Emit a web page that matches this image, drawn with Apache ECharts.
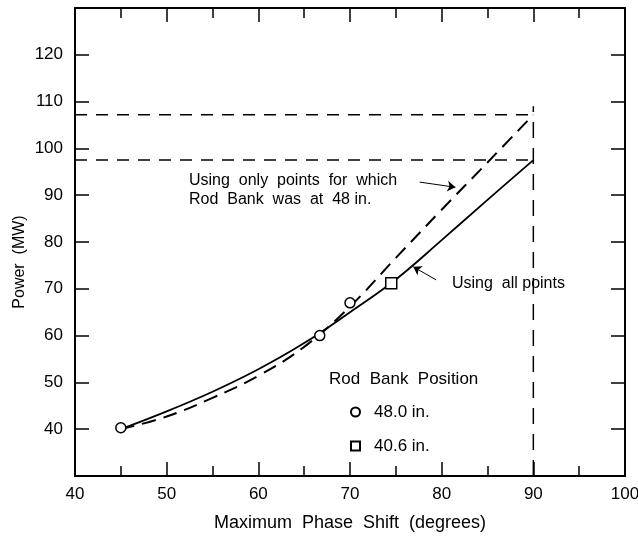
<!DOCTYPE html>
<html>
<head>
<meta charset="utf-8">
<script src="https://cdn.jsdelivr.net/npm/echarts@6/dist/echarts.min.js"></script>
<style>
  html, body { margin: 0; padding: 0; background: #fff; }
  #chart { width: 638px; height: 536px; }
</style>
</head>
<body>
<div id="chart"></div>
<script>
// fitted curves, every 5 degrees
const phaseShift = [45, 50, 55, 60, 65, 70, 75, 80, 85, 90];
const powerAllPoints = [40, 43.8, 48.0, 52.8, 58.4, 65.0, 72.0, 80.4, 89.0, 97.5];
const powerRod48 = [40, 42.7, 46.7, 51.4, 57.6, 66.2, 76.6, 86.9, 97.0, 107.2];

// measured points
const rod48X = [45.0, 66.7, 70.0];
const rod48Y = [40.3, 60.0, 67.0];
const rod406X = [74.5];
const rod406Y = [71.2];

// read-off guides at 90 degrees
const guideLevels = [107.2, 97.5];
const guideX = 90;
const guideRange = [30, 109];

const yTickLabels = [40, 50, 60, 70, 80, 90, 100, 110, 120];

const FONT = "'Liberation Sans', Arial, sans-serif";
const INK = '#000';

const pairs = (xs, ys) => xs.map((x, i) => [x, ys[i]]);

const chart = echarts.init(document.getElementById('chart'));

const tickStyle = { color: INK, width: 1.5 };

function xAxisDef(pos) {
  return {
    type: 'value', position: pos, min: 40, max: 100, interval: 10,
    axisLine: { onZero: false, lineStyle: { color: INK, width: 2 } },
    axisTick: { inside: true, length: 14, lineStyle: tickStyle },
    minorTick: { show: true, splitNumber: 2, length: 10, lineStyle: tickStyle },
    splitLine: { show: false },
    axisLabel: { show: pos === 'bottom', margin: 10, fontSize: 17, color: INK, fontFamily: FONT },
    name: pos === 'bottom' ? 'Maximum  Phase  Shift  (degrees)' : '',
    nameLocation: 'middle', nameGap: 38,
    nameTextStyle: { fontSize: 18, color: INK, fontFamily: FONT }
  };
}

function yAxisDef(pos) {
  return {
    type: 'value', position: pos, min: 30, max: 130, interval: 10,
    axisLine: { onZero: false, lineStyle: { color: INK, width: 2 } },
    axisTick: { inside: true, length: 14, lineStyle: tickStyle },
    splitLine: { show: false },
    axisLabel: {
      show: pos === 'left', margin: 12, fontSize: 17, color: INK, fontFamily: FONT,
      formatter: v => yTickLabels.indexOf(v) >= 0 ? String(v) : ''
    }
  };
}

const arrowLine = (tail, tip) => [{ coord: tail }, { coord: tip }];

const series = [
  {
    name: 'all points', type: 'line', smooth: 0.4, showSymbol: false,
    data: pairs(phaseShift, powerAllPoints),
    lineStyle: { color: INK, width: 1.8 },
    markLine: {
      silent: true, symbol: ['none', 'arrow'], symbolSize: 8,
      label: { show: false },
      lineStyle: { color: INK, width: 1, type: 'solid' },
      data: [arrowLine([79.4, 71.9], [76.9, 74.7])]
    }
  },
  {
    name: 'rod 48 only', type: 'line', smooth: 0.4, showSymbol: false,
    data: pairs(phaseShift, powerRod48),
    lineStyle: { color: INK, width: 2, type: [14, 8] },
    markLine: {
      silent: true, symbol: ['none', 'arrow'], symbolSize: 8,
      label: { show: false },
      lineStyle: { color: INK, width: 1, type: 'solid' },
      data: [arrowLine([77.6, 92.8], [81.5, 91.7])]
    }
  }
];

guideLevels.forEach(lvl => {
  series.push({
    type: 'line', showSymbol: false, silent: true,
    data: [[40, lvl], [guideX, lvl]],
    lineStyle: { color: INK, width: 1.5, type: [12, 9] }
  });
});

series.push({
  type: 'line', showSymbol: false, silent: true,
  data: [[guideX, guideRange[0]], [guideX, guideRange[1]]],
  lineStyle: { color: INK, width: 1.5, type: [16, 10] }
});

series.push({
  name: '48.0 in.', type: 'scatter', symbol: 'circle', symbolSize: 10, z: 5,
  data: pairs(rod48X, rod48Y),
  itemStyle: { color: '#fff', borderColor: INK, borderWidth: 1.5, opacity: 1 }
});
series.push({
  name: '40.6 in.', type: 'scatter', symbol: 'rect', symbolSize: 11, z: 5,
  data: pairs(rod406X, rod406Y),
  itemStyle: { color: '#fff', borderColor: INK, borderWidth: 1.5, opacity: 1 }
});

const txt = (x, y, text, size, extra) => Object.assign({
  type: 'text', x: x, y: y,
  style: { text: text, fontSize: size, fontFamily: FONT, fill: INK, verticalAlign: 'middle' }
}, extra || {});

chart.setOption({
  backgroundColor: '#fff',
  animation: false,
  grid: { left: 75, right: 13, top: 8, bottom: 60, outerBoundsMode: 'none' },
  xAxis: [xAxisDef('bottom'), xAxisDef('top')],
  yAxis: [yAxisDef('left'), yAxisDef('right')],
  legend: {
    orient: 'vertical', left: 345, top: 397, itemGap: 14,
    itemWidth: 9, itemHeight: 9,
    textStyle: { fontSize: 17, color: INK, fontFamily: FONT, lineHeight: 20, padding: [0, 0, 0, 9] },
    data: [{ name: '48.0 in.', icon: 'circle' }, { name: '40.6 in.', icon: 'rect' }]
  },
  graphic: [
    txt(189, 181, 'Using  only  points  for  which', 16),
    txt(189, 200, 'Rod  Bank  was  at  48 in.', 16),
    txt(452, 284, 'Using  all points', 16),
    txt(329, 379, 'Rod  Bank  Position', 17),
    {
      type: 'text', x: 20, y: 262, rotation: Math.PI / 2,
      style: { text: 'Power  (MW)', fontSize: 16, fontFamily: FONT, fill: INK, align: 'center', verticalAlign: 'middle' }
    }
  ],
  series: series
});
</script>
</body>
</html>
